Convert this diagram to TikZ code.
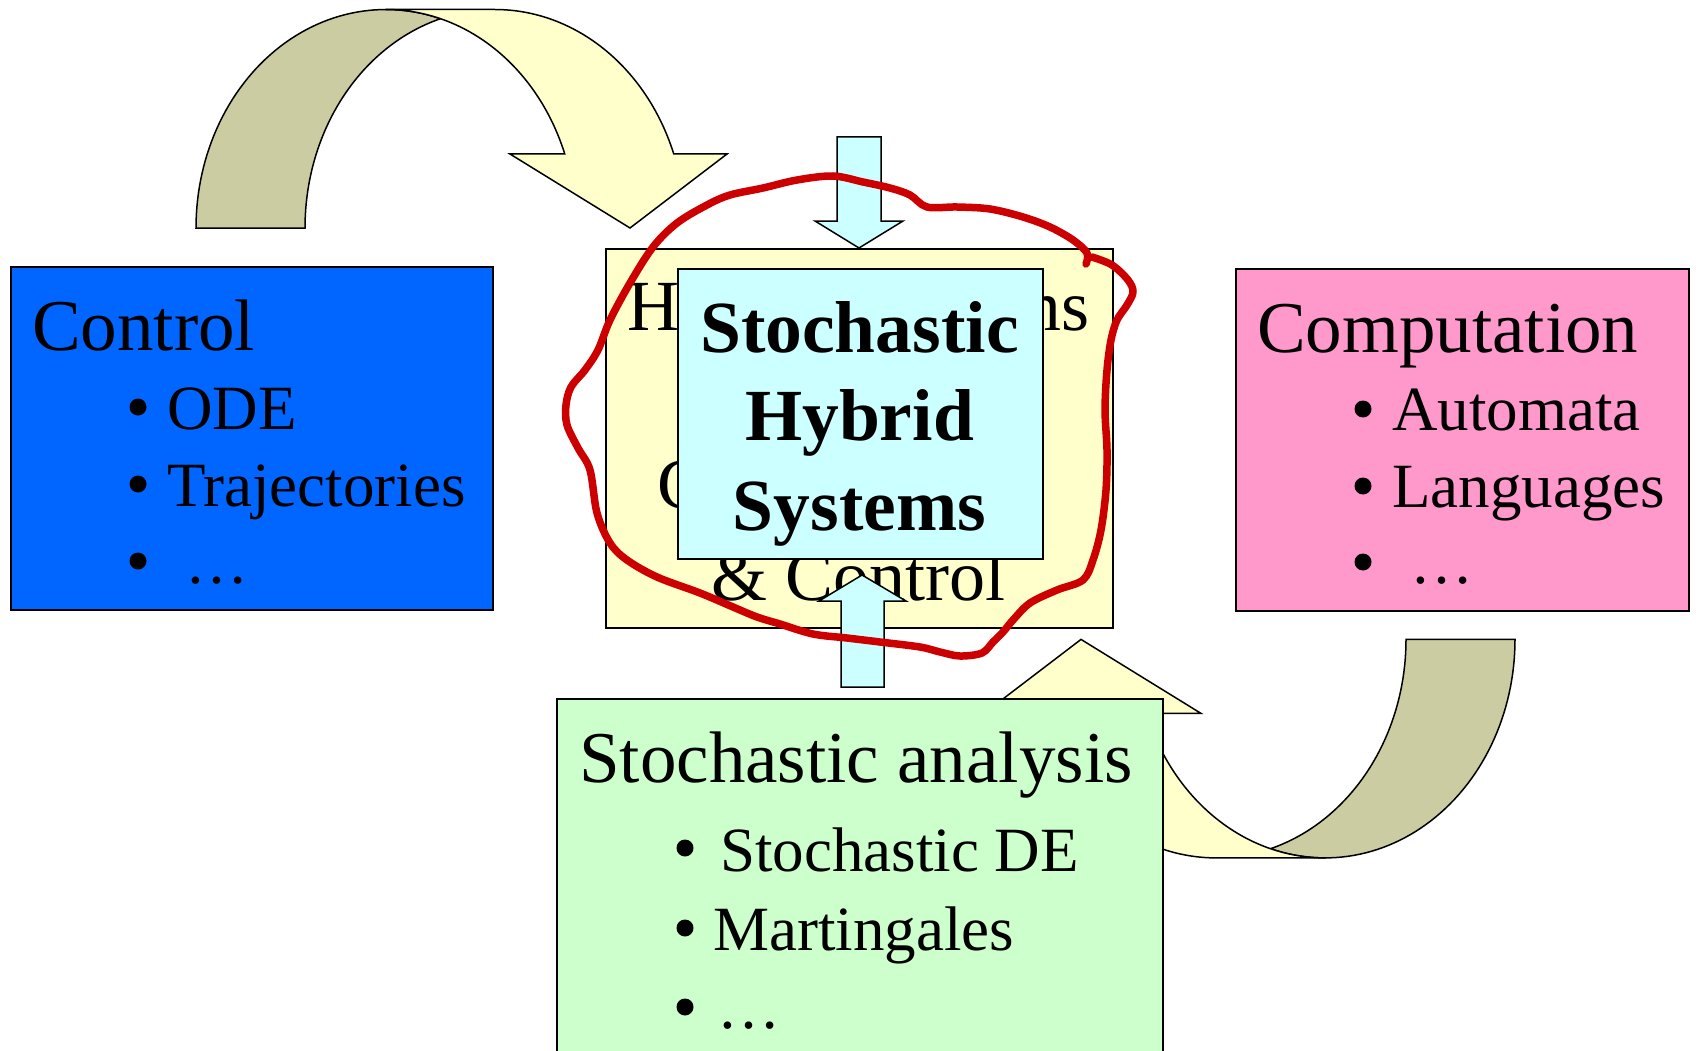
\documentclass[tikz,border=0pt]{standalone}
\usepackage{fontspec}
\setmainfont{Liberation Serif}
\definecolor{ctrlblue}{RGB}{0,102,255}
\definecolor{comppink}{RGB}{255,153,204}
\definecolor{paleyellow}{RGB}{255,255,204}
\definecolor{palecyan}{RGB}{204,255,255}
\definecolor{palegreen}{RGB}{204,255,204}
\definecolor{khaki}{RGB}{204,204,163}
\definecolor{penred}{RGB}{204,0,0}

% bent block arrow: khaki back band rising from the tail, yellow front band ending in the head
\newcommand\bentarrow{%
  \filldraw[outline, fill=khaki] (196,228)
    -- plot[domain=180:286.6, samples=60, variable=\t] ({386+190*cos(\t)},{228+218.5*sin(\t)})
    -- plot[domain=253.4:180, samples=60, variable=\t] ({495+190*cos(\t)},{228+218.5*sin(\t)})
    -- cycle;
  \filldraw[outline, fill=paleyellow] (386,9.5) -- (495,9.5)
    -- plot[domain=270:340.2, samples=60, variable=\t] ({495+190*cos(\t)},{228+218.5*sin(\t)})
    -- (727,154) -- (630,228) -- (510,154)
    -- plot[domain=340.2:270, samples=60, variable=\t] ({386+190*cos(\t)},{228+218.5*sin(\t)})
    -- cycle;
}

\begin{document}
\begin{tikzpicture}[x=1pt, y=-1pt,
  outline/.style={draw=black, line width=1.5pt, line join=miter},
  panel/.style={draw=black, line width=1.8pt, inner sep=0pt, anchor=north west},
  title/.style={inner sep=0pt, anchor=base west, font=\fontsize{73}{73}\selectfont},
  item/.style={inner sep=0pt, anchor=base west, font=\fontsize{63}{63}\selectfont},
  bulletdot/.style={circle, fill=black, inner sep=0pt, minimum size=17pt},
  hstext/.style={inner sep=0pt, font=\fontsize{72}{72}\selectfont},
  shstext/.style={inner sep=0pt, anchor=base, font=\fontsize{73.5}{73.5}\selectfont\bfseries},
  redpen/.style={draw=penred, line width=7.5pt, line cap=round, line join=round}]
\useasboundingbox (0,0) rectangle (1696,1051);
\clip (0,0) rectangle (1696,1051);

% the two bent arrows
\bentarrow
\begin{scope}[rotate around={180:(855.5,433.7)}]
  \bentarrow
\end{scope}

% Control
\node[panel, fill=ctrlblue, minimum width=482pt, minimum height=343pt] (ctrl) at (10,266) {};
\node[title] (ctrltitle) at (32,350) {Control};
\node[bulletdot] (cb1) at (138,407) {};
\node[bulletdot] (cb2) at (138,484) {};
\node[bulletdot] (cb3) at (138,561) {};
\node[item] (code) at (167,429) {ODE};
\node[item] (ctraj) at (167,506) {Trajectories};
\node[item] (cdots) at (185,583) {…};

% Computation
\node[panel, fill=comppink, minimum width=453pt, minimum height=342pt] (comp) at (1235,268) {};
\node[title] (comptitle) at (1257,352) {Computation};
\node[bulletdot] (pb1) at (1363,409) {};
\node[bulletdot] (pb2) at (1363,486) {};
\node[bulletdot] (pb3) at (1363,562) {};
\node[item] (pauto) at (1392,430) {Automata};
\node[item] (plang) at (1392,507) {Languages};
\node[item] (pdots) at (1410,583) {…};

% Hybrid Systems: Computation & Control
\node[panel, fill=paleyellow, minimum width=507pt, minimum height=379pt] (hs) at (605,248) {};
\node[hstext, anchor=base] (hsl1) at (858.5,330) {Hybrid Systems};
\node[hstext, anchor=base west] (hsl3) at (657,508) {Computation};
\node[hstext, anchor=base] (hsl4) at (858.5,600) {\& Control};

% arrow into the top of the box
\filldraw[outline, fill=palecyan] (837,137) -- (881,137) -- (881,221) -- (903,221)
  -- (859,248) -- (815,221) -- (837,221) -- cycle;

% Stochastic Hybrid Systems
\node[panel, fill=palecyan, minimum width=365pt, minimum height=290pt] (shs) at (677,268) {};
\node[shstext] (shs1) at (859.5,352) {Stochastic};
\node[shstext] (shs2) at (859.5,440) {Hybrid};
\node[shstext] (shs3) at (859.5,530) {Systems};

% arrow up from stochastic analysis
\filldraw[outline, fill=palecyan] (862,575) -- (906,601) -- (884,601) -- (884,687)
  -- (841,687) -- (841,601) -- (819,601) -- cycle;

% Stochastic analysis
\node[panel, fill=palegreen, minimum width=606pt, minimum height=380pt] (sa) at (556,698) {};
\node[title] (satitle) at (579,782) {Stochastic analysis};
\node[bulletdot] (gb1) at (685,848) {};
\node[bulletdot] (gb2) at (685,928) {};
\node[bulletdot] (gb3) at (685,1007) {};
\node[item] (gsde) at (720,871) {Stochastic DE};
\node[item] (gmart) at (713,950) {Martingales};
\node[item] (gdots) at (717,1028) {…};

% freehand ring round the centre
\draw[redpen] plot[smooth, tension=0.55] coordinates {
  (1092,257) (1112,265) (1128,280) (1133,292) (1127,305) (1117,320) (1111,340)
  (1107,370) (1105,410) (1107,450) (1106,490) (1101,530) (1093,560) (1083,580)
  (1057,590) (1030,603) (1013,620) (1003,632) (993,642) (982,653) (960,656)
  (940,652) (920,647) (880,642) (847,638) (813,634) (780,624) (757,617)
  (733,607) (700,593) (657,577) (627,560) (610,543) (597,513) (590,470)
  (578,448) (567,425) (566,405) (571,387) (585,370) (598,350) (610,320)
  (630,283) (653,247) (677,223) (707,205) (730,195) (763,188) (797,180)
  (833,176) (863,182) (890,188) (910,195) (927,207) (957,207) (990,209)
  (1023,217) (1050,227) (1073,240) (1087,253) (1086,264)};
\end{tikzpicture}
\end{document}
